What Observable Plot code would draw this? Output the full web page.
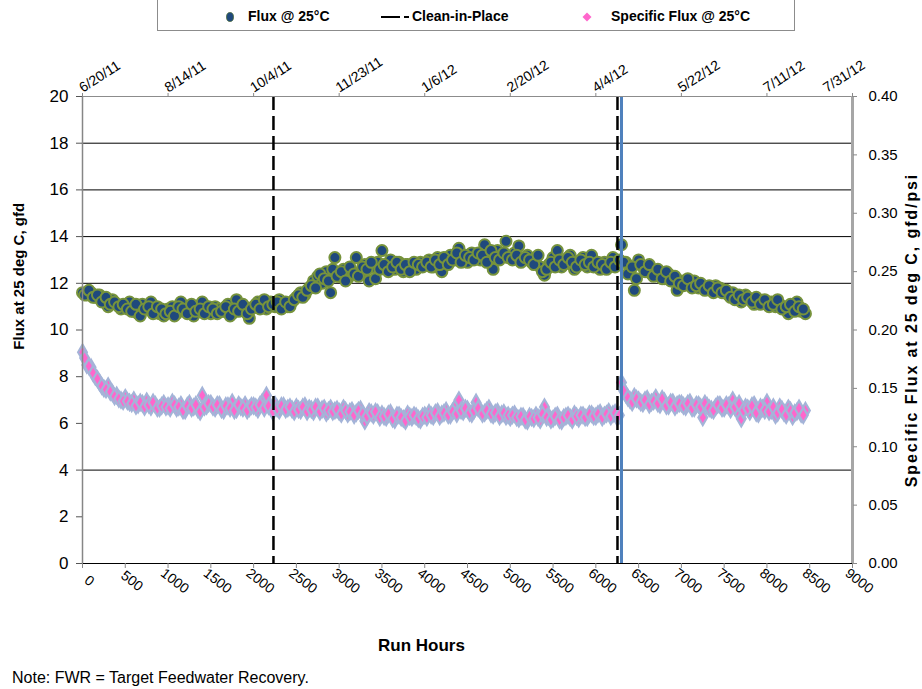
<!DOCTYPE html>
<html><head><meta charset="utf-8">
<script src="https://cdn.jsdelivr.net/npm/d3@7"></script>
<script src="https://cdn.jsdelivr.net/npm/@observablehq/plot@0.6"></script>
<style>
body{margin:0;background:#fff;font-family:"Liberation Sans",Arial,sans-serif;}
#wrap{position:relative;width:922px;height:689px;overflow:hidden;}
#legend{position:absolute;left:157px;top:0px;width:638px;height:31px;border:1px solid #8c8c8c;border-top:none;box-sizing:border-box;}
#legend svg{position:absolute;left:0;top:0;}
.lt{position:absolute;top:8px;font:bold 14px "Liberation Sans",Arial,sans-serif;color:#000;white-space:nowrap;}
#note{position:absolute;left:12px;top:669px;font:16px "Liberation Sans",Arial,sans-serif;white-space:nowrap;}
</style></head>
<body>
<div id="wrap">
<div id="chart"></div>
<div id="legend">
<svg width="638" height="31">
<ellipse cx="72" cy="17" rx="3.5" ry="4.5" fill="#1F497D" stroke="#4a6a3a" stroke-width="0.8"/>
<line x1="223" y1="17" x2="251" y2="17" stroke="#000" stroke-width="2" stroke-dasharray="19,4"/>
<path d="M429,12.5 L433.5,17 L429,21.5 L424.5,17 Z" fill="#FF66CC"/>
</svg>
<div class="lt" style="left:90px">Flux @ 25°C</div>
<div class="lt" style="left:254px">Clean-in-Place</div>
<div class="lt" style="left:453px">Specific Flux @ 25°C</div>
</div>
<div id="note">Note: FWR = Target Feedwater Recovery.</div>
</div>
<script>
// Readings set A
const runHours = [
0,50,100,150,200,250,300,350,400,450,
500,550,600,650,700,750,800,850,900,950,
1000,1050,1100,1150,1200,1250,1300,1350,1400,1450,
1500,1550,1600,1650,1700,1750,1800,1850,1900,1950,
2000,2050,2100,2150,2200,2250,2300,2350,2400,2450,
2500,2550,2600,2650,2700,2750,2800,2850,2900,2950,
3000,3050,3100,3150,3200,3250,3300,3350,3400,3450,
3500,3550,3600,3650,3700,3750,3800,3850,3900,3950,
4000,4050,4100,4150,4200,4250,4300,4350,4400,4450,
4500,4550,4600,4650,4700,4750,4800,4850,4900,4950,
5000,5050,5100,5150,5200,5250,5300,5350,5400,5450,
5500,5550,5600,5650,5700,5750,5800,5850,5900,5950,
6000,6050,6100,6150,6200,6250,6300,6350,6400,6450,
6500,6550,6600,6650,6700,6750,6800,6850,6900,6950,
7000,7050,7100,7150,7200,7250,7300,7350,7400,7450,
7500,7550,7600,7650,7700,7750,7800,7850,7900,7950,
8000,8050,8100,8150,8200,8250,8300,8350,8400,8450];

const fluxGfd = [
11.6,11.5,11.6,11.4,11.5,11.3,11.0,11.3,11.1,10.9,
11.0,11.2,10.8,10.7,11.1,10.9,11.2,10.8,10.7,10.6,
10.9,11.0,10.7,11.2,10.8,10.9,10.6,11.0,11.2,10.8,
10.7,11.0,10.9,10.8,11.1,10.7,11.3,10.9,10.8,10.5,
11.0,11.2,11.1,10.9,11.2,11.0,11.3,11.1,11.0,11.2,
11.4,11.6,11.5,11.8,12.1,12.3,12.0,12.5,11.6,13.1,
12.3,12.6,12.2,12.5,13.1,12.4,12.8,12.1,12.7,12.9,
13.4,12.7,13.0,12.6,12.9,12.5,12.8,12.7,12.6,12.9,
12.8,13.0,12.7,13.1,12.5,12.9,13.2,13.0,13.5,13.1,
12.9,13.3,13.1,13.0,13.65,13.2,12.6,13.4,13.2,13.8,
13.1,13.3,13.6,13.0,13.2,12.9,13.1,12.7,12.35,12.8,
13.1,13.4,12.7,12.9,13.2,12.6,12.8,13.1,12.7,13.2,
12.8,12.6,12.9,12.7,13.1,12.9,13.65,12.9,12.5,11.7,
13.0,12.7,12.6,12.4,12.5,12.3,12.2,12.4,12.1,11.7,
12.1,12.0,11.9,12.1,11.8,11.9,11.8,11.7,11.9,11.8,
11.6,11.5,11.6,11.4,11.2,11.5,11.3,11.1,11.3,11.2,
11.1,11.2,11.0,11.1,10.9,10.7,11.0,11.2,10.8,10.7];

const specificFlux = [
0.181,0.170,0.168,0.160,0.155,0.150,0.152,0.146,0.144,0.140,
0.142,0.138,0.140,0.136,0.137,0.139,0.134,0.136,0.133,0.137,
0.135,0.138,0.133,0.136,0.131,0.137,0.134,0.132,0.144,0.135,
0.137,0.133,0.136,0.131,0.135,0.138,0.132,0.134,0.136,0.133,
0.135,0.132,0.138,0.144,0.134,0.136,0.131,0.135,0.133,0.132,
0.134,0.131,0.135,0.133,0.130,0.134,0.132,0.129,0.133,0.131,
0.130,0.133,0.128,0.131,0.129,0.132,0.122,0.130,0.127,0.129,
0.128,0.125,0.129,0.123,0.127,0.124,0.128,0.125,0.126,0.123,
0.127,0.129,0.126,0.130,0.128,0.131,0.127,0.133,0.140,0.130,
0.132,0.128,0.138,0.131,0.129,0.133,0.127,0.130,0.128,0.126,
0.125,0.128,0.124,0.126,0.122,0.125,0.127,0.123,0.134,0.126,
0.124,0.127,0.122,0.126,0.125,0.128,0.124,0.127,0.125,0.128,
0.126,0.129,0.127,0.130,0.128,0.125,0.155,0.145,0.140,0.143,
0.140,0.137,0.141,0.138,0.142,0.136,0.139,0.135,0.138,0.136,
0.137,0.134,0.138,0.133,0.136,0.125,0.135,0.132,0.134,0.136,
0.133,0.135,0.140,0.131,0.124,0.134,0.130,0.136,0.128,0.133,
0.138,0.131,0.127,0.134,0.129,0.133,0.126,0.130,0.128,0.131];

// Readings set B (in-between samples)
const runHoursB = [
25,75,125,175,225,275,325,375,425,475,
525,575,625,675,725,775,825,875,925,975,
1025,1075,1125,1175,1225,1275,1325,1375,1425,1475,
1525,1575,1625,1675,1725,1775,1825,1875,1925,1975,
2025,2075,2125,2175,2225,2275,2325,2375,2425,2475,
2525,2575,2625,2675,2725,2775,2825,2875,2925,2975,
3025,3075,3125,3175,3225,3275,3325,3375,3425,3475,
3525,3575,3625,3675,3725,3775,3825,3875,3925,3975,
4025,4075,4125,4175,4225,4275,4325,4375,4425,4475,
4525,4575,4625,4675,4725,4775,4825,4875,4925,4975,
5025,5075,5125,5175,5225,5275,5325,5375,5425,5475,
5525,5575,5625,5675,5725,5775,5825,5875,5925,5975,
6025,6075,6125,6175,6225,6275,6325,6375,6425,6475,
6525,6575,6625,6675,6725,6775,6825,6875,6925,6975,
7025,7075,7125,7175,7225,7275,7325,7375,7425,7475,
7525,7575,7625,7675,7725,7775,7825,7875,7925,7975,
8025,8075,8125,8175,8225,8275,8325,8375,8425];

const fluxGfdB = [
11.5,11.7,11.4,11.5,11.2,11.4,11.1,11.2,11.0,11.1,
10.9,10.8,11.1,10.6,10.9,11.0,10.7,11.0,10.9,10.7,
10.8,10.6,11.0,10.9,10.7,11.1,10.8,10.9,10.7,11.0,
10.9,10.7,10.8,11.0,10.6,10.9,10.8,11.1,10.7,10.9,
11.1,10.9,11.3,11.0,11.1,11.2,10.9,11.2,11.0,11.3,
11.5,11.4,11.7,11.9,11.8,12.4,12.2,12.1,12.6,12.3,
12.5,12.1,12.7,12.4,12.3,12.7,12.6,12.9,12.2,12.6,
12.8,12.5,12.7,12.9,12.6,12.8,12.5,12.9,12.8,12.7,
12.9,12.7,13.0,12.8,13.1,12.8,13.0,13.3,12.9,13.2,
13.1,13.0,13.3,13.2,12.9,13.4,13.1,13.0,13.3,13.1,
13.0,13.2,12.9,13.1,13.0,12.8,13.2,12.5,12.6,12.9,
12.7,13.0,12.8,13.1,12.9,12.7,13.0,12.8,12.9,12.7,
12.9,12.8,12.6,12.9,12.7,13.0,12.9,12.4,12.7,12.2,
12.8,12.5,12.8,12.3,12.6,12.2,12.5,12.1,12.3,12.0,
11.9,12.2,11.8,11.9,12.0,11.7,11.9,11.6,11.8,11.6,
11.7,11.4,11.3,11.5,11.3,11.4,11.2,11.4,11.1,11.3,
11.0,11.1,11.3,10.9,11.0,11.1,10.8,11.0,10.9];

const specificFluxB = [
0.176,0.169,0.163,0.158,0.152,0.149,0.147,0.143,0.141,0.139,
0.139,0.137,0.135,0.138,0.134,0.136,0.138,0.133,0.135,0.134,
0.133,0.136,0.134,0.131,0.135,0.133,0.136,0.130,0.134,0.137,
0.134,0.136,0.132,0.135,0.133,0.131,0.136,0.133,0.131,0.135,
0.134,0.136,0.133,0.135,0.130,0.133,0.135,0.132,0.134,0.130,
0.132,0.134,0.130,0.132,0.134,0.130,0.133,0.131,0.130,0.132,
0.128,0.131,0.130,0.127,0.131,0.128,0.126,0.129,0.130,0.125,
0.126,0.128,0.124,0.127,0.125,0.122,0.126,0.127,0.124,0.126,
0.125,0.127,0.129,0.126,0.129,0.127,0.130,0.128,0.131,0.133,
0.129,0.131,0.133,0.128,0.131,0.128,0.129,0.126,0.129,0.127,
0.127,0.125,0.126,0.123,0.126,0.124,0.125,0.128,0.125,0.123,
0.126,0.123,0.125,0.127,0.123,0.126,0.127,0.125,0.128,0.126,
0.128,0.125,0.128,0.126,0.129,0.127,0.148,0.142,0.138,0.141,
0.138,0.140,0.136,0.139,0.137,0.141,0.135,0.138,0.134,0.137,
0.135,0.137,0.133,0.136,0.134,0.137,0.133,0.131,0.136,0.133,
0.136,0.132,0.134,0.137,0.131,0.133,0.135,0.129,0.134,0.131,
0.130,0.134,0.129,0.132,0.127,0.131,0.129,0.133,0.127];

const cipHours = [2232, 6253];
const blueLineHours = [6300];
const leftTicks = [0,2,4,6,8,10,12,14,16,18,20];
const rightTicks = [0,0.05,0.10,0.15,0.20,0.25,0.30,0.35,0.40];
const bottomTicks = [0,500,1000,1500,2000,2500,3000,3500,4000,4500,5000,5500,6000,6500,7000,7500,8000,8500,9000];
const topTickHours = [0,1000,2000,3000,4000,5000,6000,7000,8000,9000];
const topDates = ["6/20/11","8/14/11","10/4/11","11/23/11","1/6/12","2/20/12","4/4/12","5/22/12","7/11/12","7/31/12"];
const gridLevels = [4,12,14,16,18];

const ratio = 50; // right axis 0.40 aligned with left axis 20
const flux = runHours.map((h,i)=>({h, v: fluxGfd[i]})).concat(runHoursB.map((h,i)=>({h, v: fluxGfdB[i]})));
const sf = runHours.map((h,i)=>({h, v: specificFlux[i]})).concat(runHoursB.map((h,i)=>({h, v: specificFluxB[i]})));
const topLabels = topTickHours.map((h,i)=>({h, t: topDates[i]}));

const chart = Plot.plot({
  width: 922, height: 689,
  marginTop: 96, marginBottom: 126, marginLeft: 82, marginRight: 70,
  style: {fontFamily: '"Liberation Sans", Arial, sans-serif', background: "white"},
  x: {domain: [0, 9000], label: null},
  y: {domain: [0, 20], label: null},
  marks: [
    Plot.ruleY(gridLevels, {stroke: "#000", strokeWidth: 1}),
    Plot.dot(flux, {x: "h", y: "v", r: 5.5, fill: "#1F497D", stroke: "#77933C", strokeWidth: 2}),
    Plot.dot(sf, {x: "h", y: d => d.v * ratio, symbol: "diamond", r: 4.6, fill: "#FF66CC", stroke: "#A4B4D8", strokeWidth: 2.2}),
    Plot.ruleX(cipHours, {stroke: "#000", strokeWidth: 2.5, strokeDasharray: "14,6"}),
    Plot.ruleX(blueLineHours, {stroke: "#4F81BD", strokeWidth: 3}),
    Plot.ruleY([20], {stroke: "#8c8c8c", strokeWidth: 1}),
    Plot.ruleY([0], {stroke: "#000", strokeWidth: 1}),
    Plot.ruleX([0], {stroke: "#868686", strokeWidth: 1.5}),
    Plot.ruleX([9000], {stroke: "#a6a6a6", strokeWidth: 3}),
    Plot.axisY(leftTicks, {anchor: "left", tickSize: 6, tickPadding: 8, fontSize: 17, stroke: "#555", fill: "#000", label: null}),
    Plot.axisY(rightTicks.map(v => v * ratio), {anchor: "right", tickSize: 4, tickPadding: 12, fontSize: 15, stroke: "#888", fill: "#000", tickFormat: d => (d / ratio).toFixed(2), label: null}),
    Plot.axisX(bottomTicks, {anchor: "bottom", tickSize: 5, tickFormat: () => "", stroke: "#888", label: null}),
    Plot.axisX(topTickHours, {anchor: "top", tickSize: 4, tickFormat: () => "", stroke: "#888", label: null}),
    Plot.text(bottomTicks, {x: d => d, text: d => String(d), frameAnchor: "bottom", dy: 21, dx: 4, rotate: 38, fontSize: 14, textAnchor: "middle", fill: "#000"}),
    Plot.text(topLabels.slice(0, -1), {x: "h", text: "t", frameAnchor: "top", dy: -12, dx: -5, rotate: -33, fontSize: 14, textAnchor: "start", fill: "#000"}),
    Plot.text(topLabels.slice(-1), {x: "h", text: "t", frameAnchor: "top", dy: -12, dx: -31, rotate: -33, fontSize: 14, textAnchor: "start", fill: "#000"}),
    Plot.text(["Flux at 25 deg C, gfd"], {x: 0, y: 12.3, dx: -63, rotate: -90, fontSize: 15, fontWeight: "bold", fill: "#000"}),
    Plot.text(["Specific Flux at 25 deg C, gfd/psi"], {x: 9000, y: 10, dx: 59, rotate: -90, fontSize: 16, fontWeight: "bold", fill: "#000"}),
    Plot.text(["Run Hours"], {x: 3962, frameAnchor: "bottom", dy: 87, fontSize: 17, fontWeight: "bold", fill: "#000"})
  ]
});
d3.select(chart).selectAll("text").filter(function() { return this.textContent.startsWith("Specific Flux at"); }).attr("letter-spacing", "1.9px");
document.getElementById("chart").appendChild(chart);
</script>
</body></html>
